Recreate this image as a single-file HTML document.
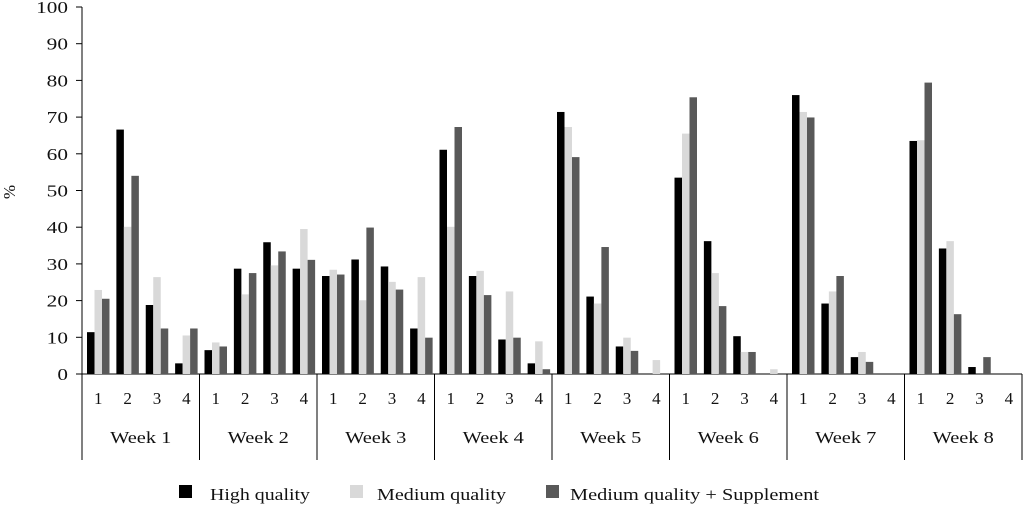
<!DOCTYPE html>
<html><head><meta charset="utf-8"><style>
body{margin:0;background:#fff}
svg text{font-family:"Liberation Serif",serif;font-size:17px;fill:#111}
</style></head><body>
<svg id="chart" width="1024" height="505"></svg>
<script>
const weeks=["Week 1","Week 2","Week 3","Week 4","Week 5","Week 6","Week 7","Week 8"];
const subCats=["1","2","3","4"];
const highQuality=[11.4,66.6,18.8,2.9, 6.5,28.7,35.9,28.7, 26.7,31.2,29.3,12.4, 61.1,26.7,9.4,2.9, 71.4,21.1,7.5,0, 53.5,36.2,10.3,0, 76,19.2,4.6,0, 63.5,34.2,1.9,0];
const mediumQuality=[22.9,40.1,26.4,10.5, 8.6,21.7,29.6,39.5, 28.4,20.1,25.1,26.4, 40.1,28.1,22.5,8.9, 67.3,19.2,9.9,3.8, 65.5,27.5,6,1.3, 71.4,22.5,6,0, 63.7,36.2,0,0];
const mediumSupp=[20.5,54,12.4,12.4, 7.5,27.5,33.4,31.1, 27.1,39.9,23,9.9, 67.3,21.5,9.9,1.3, 59.1,34.6,6.3,0, 75.4,18.5,6,0, 69.9,26.7,3.3,0, 79.4,16.3,4.6,0];
const yTicks=[0,10,20,30,40,50,60,70,80,90,100];
const seriesNames=["High quality","Medium quality","Medium quality + Supplement"];
const svg=document.getElementById('chart');
const NS="http://www.w3.org/2000/svg";
const x0=82,x1=1022,y0=374,yTop=7;
const yScale=v=>y0-(v/100)*(y0-yTop);
const weekW=(x1-x0)/weeks.length, slotW=weekW/4, barW=7.5;
const slotX=i=>x0+Math.floor(i/4)*weekW+(i%4)*slotW+5;
function mk(tag,attrs,parent){const e=document.createElementNS(NS,tag);for(const k in attrs)e.setAttribute(k,attrs[k]);(parent||svg).appendChild(e);return e;}
function widen(t,f){const w=t.getComputedTextLength();t.setAttribute('textLength',(w*f).toFixed(1));t.setAttribute('lengthAdjust','spacingAndGlyphs');}
let ax=mk('line',{x1:x0,y1:yTop,x2:x0,y2:460,stroke:'#000','stroke-width':1});


let bl=mk('line',{x1:x0,y1:y0,x2:x1,y2:y0,stroke:'#000','stroke-width':1});


yTicks.forEach(t=>{const y=yScale(t);
 const l=mk('line',{x1:x0-6,y1:y,x2:x0,y2:y,stroke:'#000'});
 
 
 const tx=mk('text',{x:68,y:y+6,'text-anchor':'end'});tx.textContent=t;
 
 
 widen(tx,1.25);
});
const yt=mk('text',{x:15,y:192,transform:'rotate(-90 15 192)','text-anchor':'middle'});yt.textContent='%';


const colors=['#000','#d9d9d9','#595959'];
const series=[highQuality,mediumQuality,mediumSupp];
series.forEach((s,si)=>s.forEach((v,i)=>{
 const y=yScale(v);
 const r=mk('rect',{x:slotX(i)+si*barW,y:y,width:barW,height:y0-y,fill:colors[si]});
 
 
}));
weeks.forEach((w,wi)=>{
 const wx=x0+wi*weekW;
 const sep=mk('line',{x1:wx+weekW,y1:y0,x2:wx+weekW,y2:460,stroke:'#000'});
 
 
 subCats.forEach((c,ci)=>{
  const t=mk('text',{x:wx+ci*slotW+5+barW*1.5,y:404,'text-anchor':'middle'});t.textContent=c;
  
  
 });
 const t=mk('text',{x:wx+weekW/2,y:443,'text-anchor':'middle'});t.textContent=w;
 
 
 widen(t,1.2);
});
const lx=[179,350,546];
const tx=[210,377,570];
const tw=[100,129,249];
seriesNames.forEach((n,i)=>{
 const r=mk('rect',{x:lx[i],y:485,width:13,height:13,fill:colors[i]});
 
 
 const t=mk('text',{x:tx[i],y:500,textLength:tw[i],lengthAdjust:'spacingAndGlyphs'});t.textContent=n;
 
 
});
</script>
</body></html>
